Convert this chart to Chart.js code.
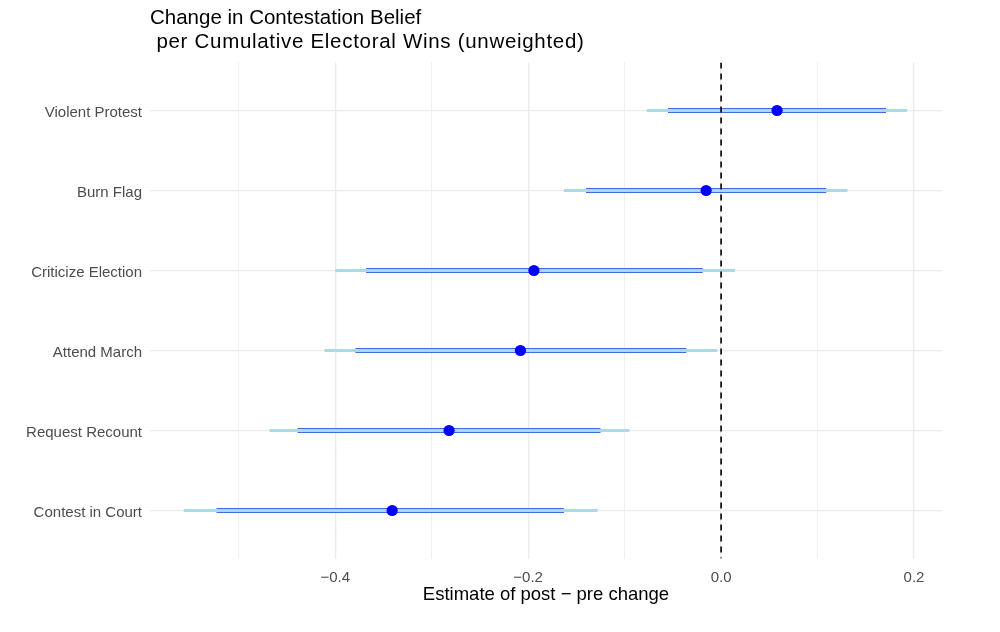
<!DOCTYPE html>
<html>
<head>
<meta charset="utf-8">
<script src="https://cdn.jsdelivr.net/npm/chart.js@4.4.1/dist/chart.umd.min.js"></script>
<style>
  html, body { margin: 0; padding: 0; background: #ffffff; }
  #wrap { width: 1000px; height: 632px; }
</style>
</head>
<body>
<div id="wrap"><canvas id="c" width="1000" height="632"></canvas></div>
<script>
// ---- data (top to bottom) ----
const categories = ["Violent Protest", "Burn Flag", "Criticize Election", "Attend March", "Request Recount", "Contest in Court"];
const estimates  = [0.058, -0.0155, -0.194, -0.208, -0.282, -0.341];
const ci90Low    = [-0.055, -0.140, -0.368, -0.379, -0.439, -0.523];
const ci90High   = [0.171, 0.109, -0.019, -0.036, -0.125, -0.163];
const ci95Low    = [-0.077, -0.163, -0.400, -0.411, -0.468, -0.557];
const ci95High   = [0.193, 0.131, 0.0145, -0.004, -0.095, -0.128];
const xTickValues = [-0.5, -0.4, -0.3, -0.2, -0.1, 0.0, 0.1, 0.2];
const xTickLabels = ["", "\u22120.4", "", "\u22120.2", "", "0.0", "", "0.2"];
const titleLines = ["Change in Contestation Belief", " per Cumulative Electoral Wins (unweighted)"];
const xTitle = "Estimate of post \u2212 pre change";

// ---- build segment data (null separators break the line) ----
function segments(lo, hi) {
  const out = [];
  categories.forEach((c, i) => {
    out.push({x: lo[i], y: i + 1});
    out.push({x: hi[i], y: i + 1});
    out.push({x: hi[i], y: null});
  });
  return out;
}
const pointData = estimates.map((v, i) => ({x: v, y: i + 1}));

const FONT = "'Liberation Sans', Arial, Helvetica, sans-serif";

const titlePlugin = {
  id: 'twoLineTitle',
  afterDraw(chart) {
    const ctx = chart.ctx;
    ctx.save();
    ctx.fillStyle = '#000000';
    ctx.font = "20.5px " + FONT;
    ctx.textAlign = 'left';
    ctx.textBaseline = 'alphabetic';
    ctx.fillText(titleLines[0], 150, 24);
    if ('letterSpacing' in ctx) ctx.letterSpacing = '0.7px';
    ctx.fillText(titleLines[1], 150, 47.7);
    ctx.restore();
  }
};

new Chart(document.getElementById('c'), {
  type: 'line',
  data: {
    datasets: [
      {
        label: 'zero',
        data: [{x: 0, y: 0.4}, {x: 0, y: 6.6}],
        borderColor: '#000000',
        borderWidth: 1.6,
        borderDash: [6, 5],
        pointRadius: 0,
        order: 0
      },
      {
        label: 'estimate',
        data: pointData,
        showLine: false,
        pointRadius: 5.6,
        pointBackgroundColor: '#0000ff',
        pointBorderWidth: 0,
        borderColor: '#0000ff',
        order: 1
      },
      {
        label: '95% CI',
        data: segments(ci95Low, ci95High),
        borderColor: '#add8e6',
        borderWidth: 3,
        borderCapStyle: 'butt',
        pointRadius: 0,
        spanGaps: false,
        order: 2
      },
      {
        label: '90% CI',
        data: segments(ci90Low, ci90High),
        borderColor: '#4169e1',
        borderWidth: 5,
        borderCapStyle: 'butt',
        pointRadius: 0,
        spanGaps: false,
        order: 3
      }
    ]
  },
  options: {
    responsive: false,
    animation: false,
    devicePixelRatio: 1,
    layout: { padding: { top: 62.5, right: 58, bottom: 0, left: 0 } },
    plugins: {
      legend: { display: false },
      tooltip: { enabled: false },
      title: { display: false }
    },
    scales: {
      x: {
        type: 'linear',
        position: 'bottom',
        min: -0.592,
        max: 0.229,
        afterBuildTicks(scale) {
          scale.ticks = xTickValues.map(v => ({value: v}));
        },
        afterFit(scale) { scale.height = 73.5; },
        ticks: {
          autoSkip: false,
          maxRotation: 0,
          padding: 10,
          color: '#4d4d4d',
          font: { family: FONT, size: 15 },
          callback(value, index) { return xTickLabels[index]; }
        },
        grid: {
          drawTicks: false,
          color: '#ebebeb',
          lineWidth(ctx) { return xTickLabels[ctx.index] === "" ? 0.8 : 1.3; }
        },
        border: { display: false },
        title: {
          display: true,
          text: xTitle,
          color: '#000000',
          font: { family: FONT, size: 18.5 },
          padding: { top: 0, bottom: 26 }
        }
      },
      y: {
        type: 'linear',
        position: 'left',
        reverse: true,
        min: 0.4,
        max: 6.6,
        afterBuildTicks(scale) {
          scale.ticks = categories.map((c, i) => ({value: i + 1}));
        },
        afterFit(scale) { scale.width = 150; },
        ticks: {
          autoSkip: false,
          padding: 8,
          labelOffset: 2,
          color: '#4d4d4d',
          font: { family: FONT, size: 15 },
          callback(value) { return categories[Math.round(value) - 1]; }
        },
        grid: {
          drawTicks: false,
          color: '#ebebeb',
          lineWidth: 1.3
        },
        border: { display: false }
      }
    }
  },
  plugins: [titlePlugin]
});
</script>
</body>
</html>
